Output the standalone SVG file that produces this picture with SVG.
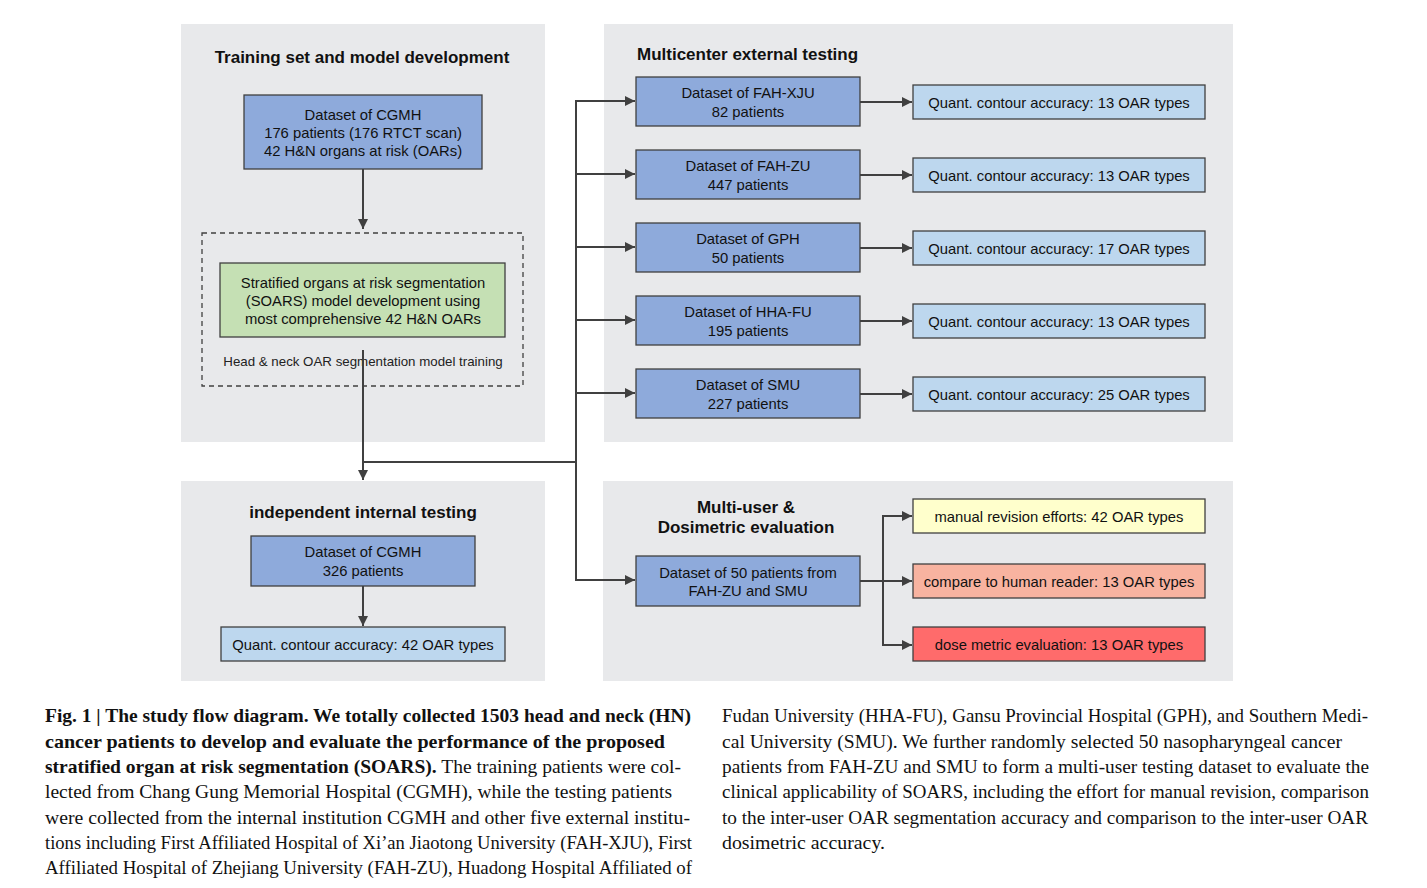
<svg xmlns="http://www.w3.org/2000/svg" width="1427" height="888" viewBox="0 0 1427 888">
<style>
.panel{fill:#e8e9eb;stroke:none}
.ds{fill:#8eaadb;stroke:#404040;stroke-width:1.3}
.q{fill:#bdd7ee;stroke:#404040;stroke-width:1.3}
.t{font-family:"Liberation Sans",Arial,sans-serif;font-size:14.8px;fill:#111;text-anchor:middle}
.h{font-family:"Liberation Sans",Arial,sans-serif;font-size:17px;font-weight:bold;fill:#111}
.small{font-family:"Liberation Sans",Arial,sans-serif;font-size:13.3px;fill:#222;text-anchor:middle}
.cap{font-family:"Liberation Serif","Times New Roman",serif;font-size:19px;fill:#111}
.conn{fill:none;stroke:#404040;stroke-width:2}
</style>
<defs>
<marker id="ah" viewBox="0 0 10 10" refX="10" refY="5" markerWidth="5" markerHeight="5" orient="auto" markerUnits="strokeWidth">
<path d="M0,0 L10,5 L0,10 z" fill="#404040"/>
</marker>
</defs>
<rect width="1427" height="888" fill="#ffffff"/>

<g id="panel-training">
<rect class="panel" x="181" y="24" width="364" height="418"/>
<text class="h" x="362" y="63" text-anchor="middle">Training set and model development</text>
</g>
<g id="panel-internal">
<rect class="panel" x="181" y="481" width="364" height="200"/>
<text class="h" x="363" y="518" text-anchor="middle">independent internal testing</text>
</g>
<g id="panel-external">
<rect class="panel" x="604" y="24" width="629" height="418"/>
<text class="h" x="637" y="60">Multicenter external testing</text>
</g>
<g id="panel-multiuser">
<rect class="panel" x="603" y="481" width="630" height="200"/>
<text class="h" x="746" y="513" text-anchor="middle">Multi-user &amp;</text>
<text class="h" x="746" y="533" text-anchor="middle">Dosimetric evaluation</text>
</g>

<g id="n-cgmh-train">
<rect class="ds" x="244" y="95" width="238" height="74"/>
<text class="t" x="363" y="120">Dataset of CGMH</text>
<text class="t" x="363" y="138">176 patients (176 RTCT scan)</text>
<text class="t" x="363" y="156">42 H&amp;N organs at risk (OARs)</text>
</g>
<g id="n-training-group">
<rect x="202" y="233" width="321" height="153" fill="none" stroke="#404040" stroke-width="1.3" stroke-dasharray="5,4"/>
<text class="small" x="363" y="366">Head &amp; neck OAR segmentation model training</text>
</g>
<g id="n-soars">
<rect x="220" y="263" width="285" height="74" fill="#c5e0b4" stroke="#404040" stroke-width="1.3"/>
<text class="t" x="363" y="288">Stratified organs at risk segmentation</text>
<text class="t" x="363" y="306">(SOARS) model development using</text>
<text class="t" x="363" y="324">most comprehensive 42 H&amp;N OARs</text>
</g>

<g id="n-cgmh-test">
<rect class="ds" x="251" y="536" width="224" height="50"/>
<text class="t" x="363" y="557">Dataset of CGMH</text>
<text class="t" x="363" y="576">326 patients</text>
</g>
<g id="n-q-internal">
<rect class="q" x="221" y="627" width="284" height="34"/>
<text class="t" x="363" y="650">Quant. contour accuracy: 42 OAR types</text>
</g>

<g id="n-fahxju">
<rect class="ds" x="636" y="77" width="224" height="49"/>
<text class="t" x="748" y="98">Dataset of FAH-XJU</text>
<text class="t" x="748" y="117">82 patients</text>
</g>
<g id="n-fahzu">
<rect class="ds" x="636" y="150" width="224" height="49"/>
<text class="t" x="748" y="171">Dataset of FAH-ZU</text>
<text class="t" x="748" y="190">447 patients</text>
</g>
<g id="n-gph">
<rect class="ds" x="636" y="223" width="224" height="49"/>
<text class="t" x="748" y="244">Dataset of GPH</text>
<text class="t" x="748" y="263">50 patients</text>
</g>
<g id="n-hhafu">
<rect class="ds" x="636" y="296" width="224" height="49"/>
<text class="t" x="748" y="317">Dataset of HHA-FU</text>
<text class="t" x="748" y="336">195 patients</text>
</g>
<g id="n-smu">
<rect class="ds" x="636" y="369" width="224" height="49"/>
<text class="t" x="748" y="390">Dataset of SMU</text>
<text class="t" x="748" y="409">227 patients</text>
</g>

<g id="n-q1">
<rect class="q" x="913" y="85" width="292" height="34"/>
<text class="t" x="1059" y="108">Quant. contour accuracy: 13 OAR types</text>
</g>
<g id="n-q2">
<rect class="q" x="913" y="158" width="292" height="34"/>
<text class="t" x="1059" y="181">Quant. contour accuracy: 13 OAR types</text>
</g>
<g id="n-q3">
<rect class="q" x="913" y="231" width="292" height="34"/>
<text class="t" x="1059" y="254">Quant. contour accuracy: 17 OAR types</text>
</g>
<g id="n-q4">
<rect class="q" x="913" y="304" width="292" height="34"/>
<text class="t" x="1059" y="327">Quant. contour accuracy: 13 OAR types</text>
</g>
<g id="n-q5">
<rect class="q" x="913" y="377" width="292" height="34"/>
<text class="t" x="1059" y="400">Quant. contour accuracy: 25 OAR types</text>
</g>

<g id="n-multi">
<rect class="ds" x="636" y="556" width="224" height="50"/>
<text class="t" x="748" y="578">Dataset of 50 patients from</text>
<text class="t" x="748" y="596">FAH-ZU and SMU</text>
</g>
<g id="n-manual">
<rect x="913" y="499" width="292" height="34" fill="#ffffcc" stroke="#404040" stroke-width="1.3"/>
<text class="t" x="1059" y="522">manual revision efforts: 42 OAR types</text>
</g>
<g id="n-human">
<rect x="913" y="564" width="292" height="34" fill="#f8b3a0" stroke="#404040" stroke-width="1.3"/>
<text class="t" x="1059" y="587">compare to human reader: 13 OAR types</text>
</g>
<g id="n-dose">
<rect x="913" y="627" width="292" height="34" fill="#ff6b6b" stroke="#404040" stroke-width="1.3"/>
<text class="t" x="1059" y="650">dose metric evaluation: 13 OAR types</text>
</g>

<g id="connectors">
<line class="conn" x1="363" y1="169" x2="363" y2="229" marker-end="url(#ah)"/>
<polyline class="conn" points="363,350 363,480" marker-end="url(#ah)"/>
<line class="conn" x1="363" y1="462" x2="577" y2="462"/>
<line class="conn" x1="576" y1="101" x2="576" y2="581"/>
<line class="conn" x1="575" y1="101" x2="635" y2="101" marker-end="url(#ah)"/>
<line class="conn" x1="576" y1="174" x2="635" y2="174" marker-end="url(#ah)"/>
<line class="conn" x1="576" y1="247" x2="635" y2="247" marker-end="url(#ah)"/>
<line class="conn" x1="576" y1="320" x2="635" y2="320" marker-end="url(#ah)"/>
<line class="conn" x1="576" y1="393" x2="635" y2="393" marker-end="url(#ah)"/>
<line class="conn" x1="575" y1="580" x2="635" y2="580" marker-end="url(#ah)"/>
<line class="conn" x1="363" y1="586" x2="363" y2="626" marker-end="url(#ah)"/>
<line class="conn" x1="860" y1="102" x2="912" y2="102" marker-end="url(#ah)"/>
<line class="conn" x1="860" y1="175" x2="912" y2="175" marker-end="url(#ah)"/>
<line class="conn" x1="860" y1="248" x2="912" y2="248" marker-end="url(#ah)"/>
<line class="conn" x1="860" y1="321" x2="912" y2="321" marker-end="url(#ah)"/>
<line class="conn" x1="860" y1="394" x2="912" y2="394" marker-end="url(#ah)"/>
<line class="conn" x1="860" y1="581" x2="912" y2="581" marker-end="url(#ah)"/>
<polyline class="conn" points="912,516 883,516 883,645 912,645" marker-end="url(#ah)"/>
<line class="conn" x1="883" y1="516" x2="912" y2="516" marker-end="url(#ah)"/>
</g>

<g id="caption">
<text class="cap" x="45" y="722" font-weight="bold" textLength="646" lengthAdjust="spacingAndGlyphs">Fig. 1 | The study flow diagram. We totally collected 1503 head and neck (HN)</text>
<text class="cap" x="45" y="748" font-weight="bold" textLength="620" lengthAdjust="spacingAndGlyphs">cancer patients to develop and evaluate the performance of the proposed</text>
<text class="cap" x="45" y="773" textLength="636" lengthAdjust="spacingAndGlyphs"><tspan font-weight="bold">stratified organ at risk segmentation (SOARS).</tspan> The training patients were col-</text>
<text class="cap" x="45" y="798" textLength="627" lengthAdjust="spacingAndGlyphs">lected from Chang Gung Memorial Hospital (CGMH), while the testing patients</text>
<text class="cap" x="45" y="824" textLength="645" lengthAdjust="spacingAndGlyphs">were collected from the internal institution CGMH and other five external institu-</text>
<text class="cap" x="45" y="849" textLength="647" lengthAdjust="spacingAndGlyphs">tions including First Affiliated Hospital of Xi’an Jiaotong University (FAH-XJU), First</text>
<text class="cap" x="45" y="874" textLength="647" lengthAdjust="spacingAndGlyphs">Affiliated Hospital of Zhejiang University (FAH-ZU), Huadong Hospital Affiliated of</text>
<text class="cap" x="722" y="722" textLength="646" lengthAdjust="spacingAndGlyphs">Fudan University (HHA-FU), Gansu Provincial Hospital (GPH), and Southern Medi-</text>
<text class="cap" x="722" y="748" textLength="620" lengthAdjust="spacingAndGlyphs">cal University (SMU). We further randomly selected 50 nasopharyngeal cancer</text>
<text class="cap" x="722" y="773" textLength="647" lengthAdjust="spacingAndGlyphs">patients from FAH-ZU and SMU to form a multi-user testing dataset to evaluate the</text>
<text class="cap" x="722" y="798" textLength="647" lengthAdjust="spacingAndGlyphs">clinical applicability of SOARS, including the effort for manual revision, comparison</text>
<text class="cap" x="722" y="824" textLength="646" lengthAdjust="spacingAndGlyphs">to the inter-user OAR segmentation accuracy and comparison to the inter-user OAR</text>
<text class="cap" x="722" y="849" textLength="163" lengthAdjust="spacingAndGlyphs">dosimetric accuracy.</text>
</g>
</svg>
